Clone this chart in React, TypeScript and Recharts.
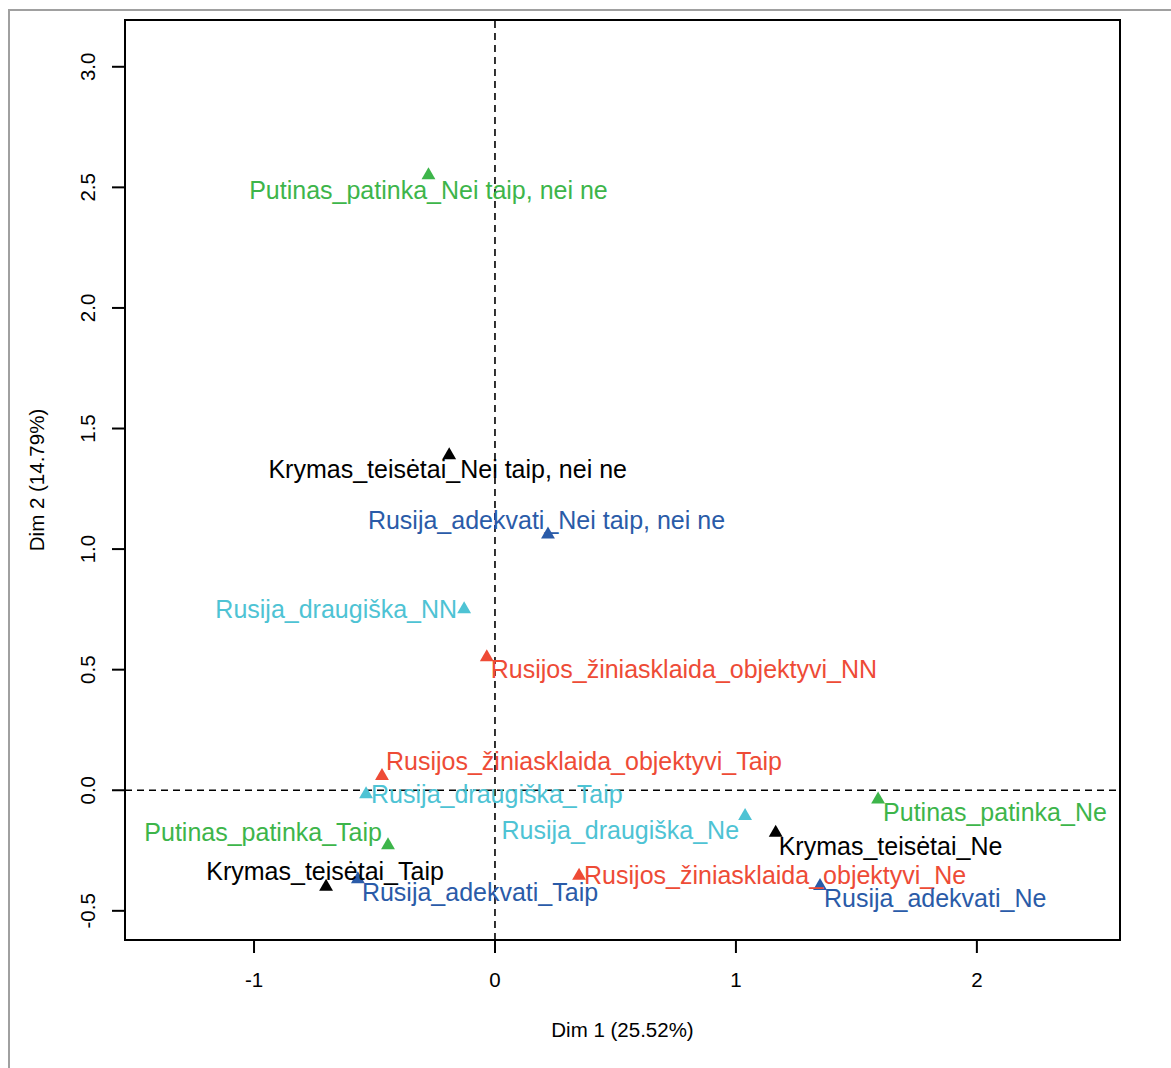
import React from "react";
import {
  ScatterChart,
  Scatter,
  XAxis,
  YAxis,
  ReferenceLine,
  ReferenceArea,
  Label,
} from "recharts";

// MCA category coordinates (Dim 1, Dim 2)
const categories = [
  "Putinas_patinka_Nei taip, nei ne",
  "Krymas_teisėtai_Nei taip, nei ne",
  "Rusija_adekvati_Nei taip, nei ne",
  "Rusija_draugiška_NN",
  "Rusijos_žiniasklaida_objektyvi_NN",
  "Rusijos_žiniasklaida_objektyvi_Taip",
  "Rusija_draugiška_Taip",
  "Putinas_patinka_Taip",
  "Krymas_teisėtai_Taip",
  "Rusija_adekvati_Taip",
  "Rusija_draugiška_Ne",
  "Krymas_teisėtai_Ne",
  "Putinas_patinka_Ne",
  "Rusijos_žiniasklaida_objektyvi_Ne",
  "Rusija_adekvati_Ne",
];

const dim1 = [
  -0.276, -0.19, 0.22, -0.128, -0.034, -0.469, -0.535, -0.444, -0.701, -0.569,
  1.038, 1.165, 1.59, 0.349, 1.349,
];

const dim2 = [
  2.55, 1.389, 1.06, 0.751, 0.551, 0.059, -0.017, -0.228, -0.4, -0.369,
  -0.107, -0.176, -0.038, -0.355, -0.397,
];

const variables = [
  "Putinas_patinka",
  "Krymas_teisetai",
  "Rusija_adekvati",
  "Rusija_draugiska",
  "Rusijos_ziniasklaida",
  "Rusijos_ziniasklaida",
  "Rusija_draugiska",
  "Putinas_patinka",
  "Krymas_teisetai",
  "Rusija_adekvati",
  "Rusija_draugiska",
  "Krymas_teisetai",
  "Putinas_patinka",
  "Rusijos_ziniasklaida",
  "Rusija_adekvati",
];

const xTicks = [-1, 0, 1, 2];
const yTicks = [-0.5, 0, 0.5, 1, 1.5, 2, 2.5, 3];

const X_DOMAIN: [number, number] = [-1.5355, 2.594];
const Y_DOMAIN: [number, number] = [-0.621, 3.194];

const COLORS: Record<string, string> = {
  Putinas_patinka: "#3db54a",
  Krymas_teisetai: "#000000",
  Rusija_adekvati: "#2a5ba8",
  Rusija_draugiska: "#4ec3d4",
  Rusijos_ziniasklaida: "#ee4b36",
};

// where each text sits relative to its triangle (px)
const labelPlacement: { anchor: "start" | "middle" | "end"; dx: number; dy: number }[] = [
  { anchor: "middle", dx: 0, dy: 15 },
  { anchor: "middle", dx: -1.5, dy: 13.5 },
  { anchor: "middle", dx: -1.5, dy: -15 },
  { anchor: "end", dx: -7, dy: 0 },
  { anchor: "start", dx: 4, dy: 12 },
  { anchor: "start", dx: 4, dy: -15 },
  { anchor: "start", dx: 5, dy: 0 },
  { anchor: "end", dx: -6, dy: -13.5 },
  { anchor: "middle", dx: -1, dy: -16 },
  { anchor: "start", dx: 4, dy: 13 },
  { anchor: "end", dx: -6, dy: 14.5 },
  { anchor: "start", dx: 3, dy: 13.5 },
  { anchor: "start", dx: 5, dy: 12.5 },
  { anchor: "start", dx: 5, dy: -0.5 },
  { anchor: "start", dx: 4, dy: 12 },
];

const points = categories.map((name, i) => ({
  name,
  x: dim1[i],
  y: dim2[i],
  variable: variables[i],
  idx: i,
}));

const W = 1171;
const H = 1068;
const PLOT_LEFT = 125;
const PLOT_TOP = 20;
const PLOT_RIGHT = 1120;
const PLOT_BOTTOM = 940;

const FONT = "'Liberation Sans', Arial, Helvetica, sans-serif";
const FS_LABEL = 25;
const FS_AXIS = 20.5;

const Triangle = (props: any) => {
  const { cx, cy, payload } = props;
  if (cx == null || cy == null) return null;
  const r = 8;
  const hw = r * 0.866;
  const pts = `${cx},${cy - r} ${cx + hw},${cy + r / 2} ${cx - hw},${cy + r / 2}`;
  return <polygon points={pts} fill={COLORS[payload.variable]} />;
};

const PointLabel = (props: any) => {
  const { cx, cy, payload } = props;
  if (cx == null || cy == null) return null;
  const p = labelPlacement[payload.idx];
  return (
    <text
      x={cx + p.dx}
      y={cy + p.dy + 0.358 * FS_LABEL}
      textAnchor={p.anchor}
      fontSize={FS_LABEL}
      fontFamily={FONT}
      fill={COLORS[payload.variable]}
    >
      {payload.name}
    </text>
  );
};

const XTick = (props: any) => {
  const { x, payload } = props;
  return (
    <text
      x={x}
      y={PLOT_BOTTOM + 40 + 0.358 * FS_AXIS}
      textAnchor="middle"
      fontSize={FS_AXIS}
      fontFamily={FONT}
      fill="#000"
    >
      {payload.value}
    </text>
  );
};

const YTick = (props: any) => {
  const { y, payload } = props;
  const bx = PLOT_LEFT - 37 + 0.358 * FS_AXIS;
  return (
    <text
      x={bx}
      y={y}
      transform={`rotate(-90 ${bx} ${y})`}
      textAnchor="middle"
      fontSize={FS_AXIS}
      fontFamily={FONT}
      fill="#000"
    >
      {Number(payload.value).toFixed(1)}
    </text>
  );
};

export default function App() {
  const titleX = 37 + 0.358 * FS_AXIS;
  const midY = (PLOT_TOP + PLOT_BOTTOM) / 2;
  const midX = (PLOT_LEFT + PLOT_RIGHT) / 2;
  return (
    <div
      style={{
        position: "fixed",
        left: 0,
        top: 0,
        width: W,
        height: H,
        overflow: "hidden",
        background: "#fff",
      }}
    >
      <div
        style={{
          position: "absolute",
          left: 8,
          top: 9,
          width: W + 20,
          height: H + 20,
          borderLeft: "2px solid #a0a0a0",
          borderTop: "2px solid #a0a0a0",
        }}
      />
      <div style={{ position: "absolute", left: 0, top: 0 }}>
        <ScatterChart
          width={W}
          height={H}
          margin={{ top: PLOT_TOP, right: W - PLOT_RIGHT, bottom: 0, left: 0 }}
        >
          <XAxis
            type="number"
            dataKey="x"
            domain={X_DOMAIN}
            ticks={xTicks}
            allowDataOverflow
            height={H - PLOT_BOTTOM}
            axisLine={false}
            stroke="#000"
            tickSize={13}
            tickLine={{ stroke: "#000", strokeWidth: 2 }}
            tick={XTick}
            interval={0}
          >
            <Label
              content={() => (
                <text
                  x={midX}
                  y={1030 + 0.358 * FS_AXIS}
                  textAnchor="middle"
                  fontSize={FS_AXIS}
                  fontFamily={FONT}
                  fill="#000"
                >
                  Dim 1 (25.52%)
                </text>
              )}
            />
          </XAxis>
          <YAxis
            type="number"
            dataKey="y"
            domain={Y_DOMAIN}
            ticks={yTicks}
            allowDataOverflow
            width={PLOT_LEFT}
            axisLine={false}
            stroke="#000"
            tickSize={13}
            tickLine={{ stroke: "#000", strokeWidth: 2 }}
            tick={YTick}
            interval={0}
          >
            <Label
              content={() => (
                <text
                  x={titleX}
                  y={midY}
                  transform={`rotate(-90 ${titleX} ${midY})`}
                  textAnchor="middle"
                  fontSize={FS_AXIS}
                  fontFamily={FONT}
                  fill="#000"
                >
                  Dim 2 (14.79%)
                </text>
              )}
            />
          </YAxis>
          <ReferenceArea
            x1={X_DOMAIN[0]}
            x2={X_DOMAIN[1]}
            y1={Y_DOMAIN[0]}
            y2={Y_DOMAIN[1]}
            fill="none"
            stroke="#000"
            strokeWidth={2}
            ifOverflow="visible"
          />
          <ReferenceLine x={0} stroke="#000" strokeWidth={1.6} strokeDasharray="7 5" />
          <ReferenceLine y={0} stroke="#000" strokeWidth={1.6} strokeDasharray="7 5" />
          <Scatter data={points} shape={Triangle} isAnimationActive={false} />
          <Scatter data={points} shape={PointLabel} isAnimationActive={false} />
        </ScatterChart>
      </div>
    </div>
  );
}
